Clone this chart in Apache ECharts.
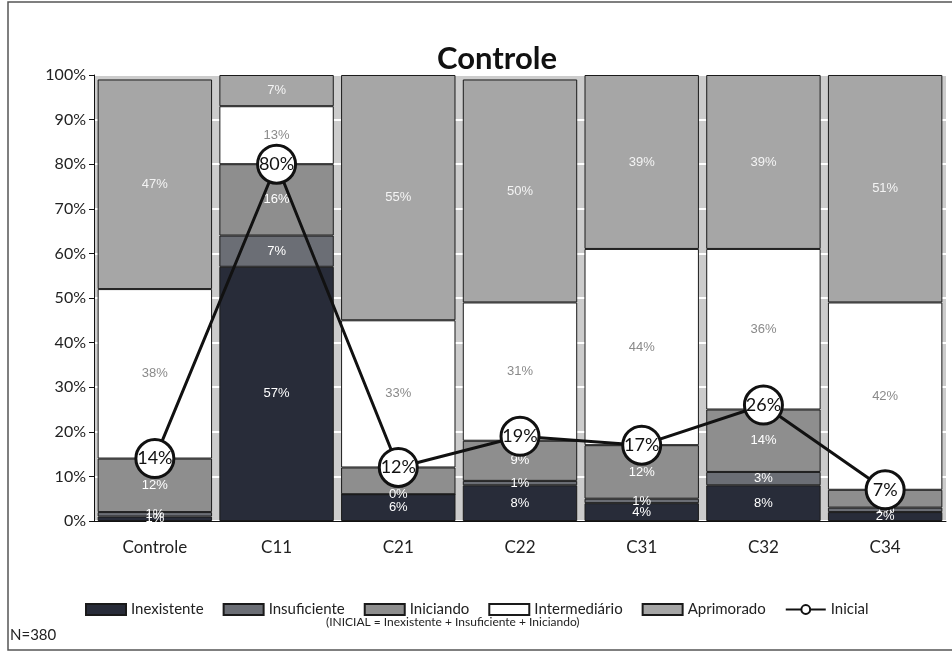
<!DOCTYPE html>
<html><head><meta charset="utf-8">
<script src="https://cdn.jsdelivr.net/npm/echarts@6/dist/echarts.min.js"></script>
<style>html,body{margin:0;padding:0;background:#fff}#c{width:952px;height:661px}</style>
</head><body><div id="c"></div>
<script>
const categories = ['Controle','C11','C21','C22','C31','C32','C34'];
const inexistente   = [1, 57, 6, 8, 4, 8, 2];
const insuficiente  = [1, 7, 0, 1, 1, 3, 1];
const iniciando     = [12, 16, 6, 9, 12, 14, 4];
const intermediario = [38, 13, 33, 31, 44, 36, 42];
const aprimorado    = [47, 7, 55, 50, 39, 39, 51];
const inicial       = [14, 80, 12, 19, 17, 26, 7];
const yTicks = [0,10,20,30,40,50,60,70,80,90,100];

const FONT = 'Lato, "Open Sans", sans-serif';
const barFont = '"Liberation Sans", Arial, sans-serif';
function bar(name, data, color, labelColor) {
  return {
    name, type: 'bar', stack: 'total', data, barCategoryGap: '6%',
    itemStyle: { color, borderColor: '#1a1a1a', borderWidth: 1 },
    label: { show: true, position: 'inside', formatter: '{c}%', color: labelColor,
      fontFamily: barFont, fontSize: 13 },
    z: 2
  };
}
const chart = echarts.init(document.getElementById('c'));
chart.setOption({
  animation: false,
  backgroundColor: '#fff',
  title: { text: 'Controle', left: 492, top: 38, textAlign: 'center',
    textStyle: { fontFamily: FONT, fontWeight: 'bold', fontSize: 31, color: '#111' } },
  grid: { left: 94, right: 6, top: 75, bottom: 140, show: true, backgroundColor: '#cccccc', borderWidth: 0 },
  xAxis: { type: 'category', data: categories,
    axisLine: { lineStyle: { color: '#111', width: 1 } }, axisTick: { show: false },
    axisLabel: { fontFamily: FONT, fontSize: 17, color: '#222', margin: 18 } },
  yAxis: { type: 'value', min: 0, max: 100, interval: 10,
    axisLine: { show: true, lineStyle: { color: '#111' } },
    axisTick: { show: true, length: 5, lineStyle: { color: '#111' } },
    splitLine: { show: true, lineStyle: { color: '#ffffff', width: 2 } },
    axisLabel: { formatter: v => yTicks.includes(v) ? v + '%' : '', fontFamily: FONT, fontSize: 16, color: '#222', margin: 8 } },
  legend: {
    left: 80, top: 597, itemWidth: 40, itemHeight: 11, itemGap: 19,
    textStyle: { fontFamily: FONT, fontSize: 15, color: '#222' },
    data: [
      { name: 'Inexistente', icon: 'rect' },
      { name: 'Insuficiente', icon: 'rect' },
      { name: 'Iniciando', icon: 'rect' },
      { name: 'Intermediário', icon: 'rect' },
      { name: 'Aprimorado', icon: 'rect' },
      'Inicial'
    ]
  },
  graphic: [
    { type: 'text', left: 326, top: 616, style: { text: '(INICIAL = Inexistente + Insuficiente + Iniciando)', font: '12px Lato, sans-serif', fill: '#222' } },
    { type: 'text', left: 10, top: 628, style: { text: 'N=380', font: '15px Lato, sans-serif', fill: '#222' } },
    { type: 'rect', shape: { x: 8, y: 2, width: 960, height: 648 }, style: { fill: 'none', stroke: '#555', lineWidth: 1.5 }, silent: true }
  ],
  series: [
    bar('Inexistente', inexistente, '#282c39', '#ffffff'),
    bar('Insuficiente', insuficiente, '#6b6e75', '#ffffff'),
    bar('Iniciando', iniciando, '#8e8e8e', '#ffffff'),
    bar('Intermediário', intermediario, '#ffffff', '#8a8a8a'),
    bar('Aprimorado', aprimorado, '#a6a6a6', '#f4f4f4'),
    { name: 'Inicial', type: 'line', data: inicial, z: 5,
      lineStyle: { color: '#111', width: 3 },
      itemStyle: { color: '#fff', borderColor: '#111', borderWidth: 3 },
      symbol: 'circle', symbolSize: 38,
      label: { show: true, position: 'inside', formatter: '{c}%', fontFamily: FONT, fontSize: 18, color: '#111' } }
  ]
});
</script></body></html>
